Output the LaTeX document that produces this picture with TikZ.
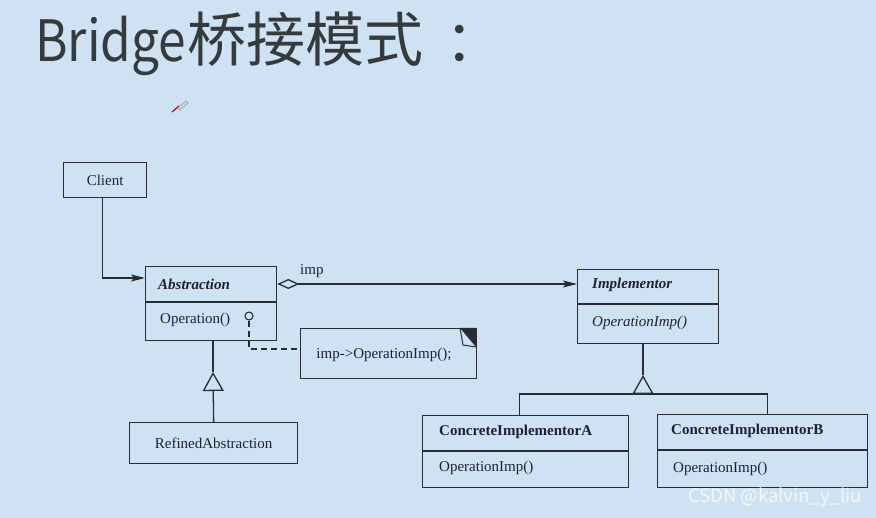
\documentclass[tikz,border=0pt]{standalone}
\usepackage{fontspec}
\setmainfont{Liberation Serif}
\newfontfamily\cjk{Noto Sans CJK SC}
\usetikzlibrary{arrows.meta}
\definecolor{bg}{HTML}{CFE2F3}
\definecolor{ink}{HTML}{2A2C34}
\definecolor{titlec}{HTML}{353A3C}
\definecolor{txt}{HTML}{1E2130}
\begin{document}
\begin{tikzpicture}[x=1pt,y=-1pt,
  ln/.style={draw=ink, line width=1.3pt},
  cls/.style={ln, inner sep=0pt, anchor=north west},
  lbl/.style={text=txt, inner sep=0pt, font=\fontsize{15}{17}\selectfont},
  dashln/.style={ln, line width=1.1pt, dash pattern=on 6pt off 4pt},
  gentip/.style={-{Triangle[open,length=19pt,width=21pt,line width=1.3pt]}},
  filtip/.style={-{Stealth[length=14pt,width=7pt,inset=3pt]}},
  ttl/.style={anchor=base west, inner sep=0pt, text=titlec, font=\cjk\fontsize{57}{60}\selectfont}
]
\fill[bg] (0,0) rectangle (876,518);
% title
\node[ttl] (title) at (35,62) {\scalebox{0.87}[1]{Bridge}};
\node[ttl, font=\cjk\fontsize{59}{60}\selectfont] (titlecn) at ([xshift=1pt]title.base east) {桥接模式};
\node[ttl] (titlecol) at (445,62) {：};
% cursor
\draw[red!75!black, line width=1.2pt] (172,112) -- (179,106);
\draw[gray!70, line width=0.8pt] (178,108) -- (186,101) -- (188,103) -- (180,110) -- cycle;
% classes
\node[cls, minimum width=83pt, minimum height=35pt] (client) at (63,162) {};
\node[lbl] (clientn) at (client.center) {Client};

\node[cls, minimum width=131pt, minimum height=74pt] (abs) at (145,266) {};
\draw[ln] (abs.west |- 0,302) -- (abs.east |- 0,302);
\node[lbl, anchor=west] (absn) at (158,284) {\textbf{\textit{Abstraction}}};
\node[lbl, anchor=west] (abso) at (160,320) {Operation()};
\node[circle, ln, line width=1.1pt, minimum size=8pt, inner sep=0pt] (circ) at (249,316) {};

\node[cls, minimum width=168pt, minimum height=41pt] (refined) at (129,422) {};
\node[lbl] (refinedn) at (refined.center) {RefinedAbstraction};

\node[cls, minimum width=141pt, minimum height=74pt] (impl) at (577,269) {};
\draw[ln] (impl.west |- 0,304) -- (impl.east |- 0,304);
\node[lbl, anchor=west] (impln) at (592,285) {\textbf{\textit{Implementor}}};
\node[lbl, anchor=west] (implo) at (592,323) {\textit{OperationImp()}};

\node[cls, minimum width=206pt, minimum height=72pt] (conA) at (422,415) {};
\draw[ln] (conA.west |- 0,451) -- (conA.east |- 0,451);
\node[lbl, anchor=west] (conAn) at (439,432) {\textbf{ConcreteImplementorA}};
\node[lbl, anchor=west] (conAo) at (439,468) {OperationImp()};

\node[cls, minimum width=210pt, minimum height=73pt] (conB) at (657,414) {};
\draw[ln] (conB.west |- 0,450) -- (conB.east |- 0,450);
\node[lbl, anchor=west] (conBn) at (671,431) {\textbf{ConcreteImplementorB}};
\node[lbl, anchor=west] (conBo) at (673,469) {OperationImp()};

% note
\node[cls, minimum width=176pt, minimum height=50pt] (note) at (300,328) {};
\node[lbl] (noten) at (384,355) {imp->OperationImp();};
\fill[ink] (460,328) -- (476,328) -- (476,347) -- cycle;
\draw[ln, line width=1pt] (460,328) -- (463,345) -- (476,347);

% connectors
\draw[ln, filtip] ([xshift=-3pt]client.south) |- (abs.west |- 0,278);
\draw[ln, {Diamond[open,length=22pt,width=10pt,line width=1.3pt]}-{Stealth[length=14pt,width=7pt,inset=3pt]}] (abs.east |- 0,284) -- (impl.west |- 0,284);
\node[lbl, anchor=west] (impl) at (300,271) {imp};
\draw[dashln] (circ.south) |- (note.west |- 0,349);

\coordinate (apex1) at (213,372);
\draw[ln] (apex1) -- (apex1 |- abs.south);
\draw[ln, gentip] (refined.north) -- (apex1);

\coordinate (apex2) at (643,375);
\coordinate (bar) at (643,394);
\draw[ln] (apex2) -- (apex2 |- 0,343);
\draw[ln, gentip] (bar) -- (apex2);
\draw[ln] ([xshift=-6pt]conA.north) |- (bar) -| ([xshift=5pt]conB.north);

% watermark
\node[anchor=west, inner sep=0pt, text=white!93!gray, font=\cjk\fontsize{18.5}{19}\selectfont] (wm) at (688,497) {CSDN @kalvin\_y\_liu};
\end{tikzpicture}
\end{document}
